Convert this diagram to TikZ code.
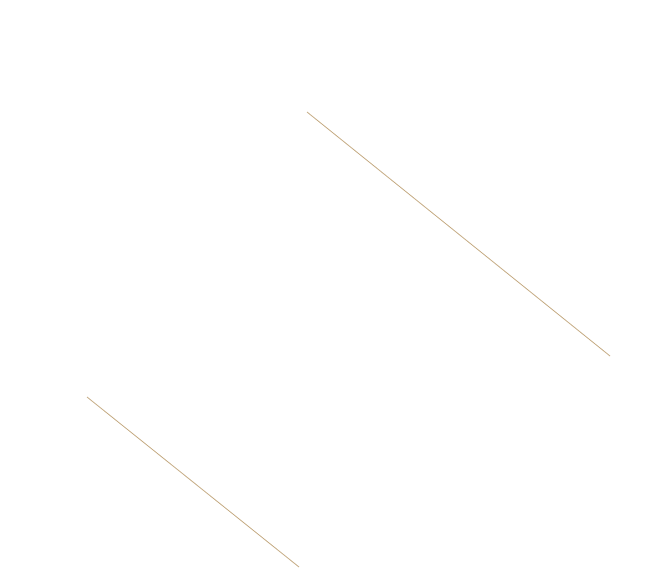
\documentclass[tikz,border=0pt]{standalone}
\definecolor{tanline}{RGB}{196,170,130}
\begin{document}
\begin{tikzpicture}[x=1pt,y=-1pt,ln/.style={draw=tanline,line width=0.8pt}]
\useasboundingbox (0,0) rectangle (652,567);
\coordinate (a1) at (307,112);
\coordinate (a2) at (610,356);
\coordinate (b1) at (87,397);
\coordinate (b2) at (299,567);
\draw[ln] (a1) -- (a2);
\draw[ln] (b1) -- (b2);
\end{tikzpicture}
\end{document}
